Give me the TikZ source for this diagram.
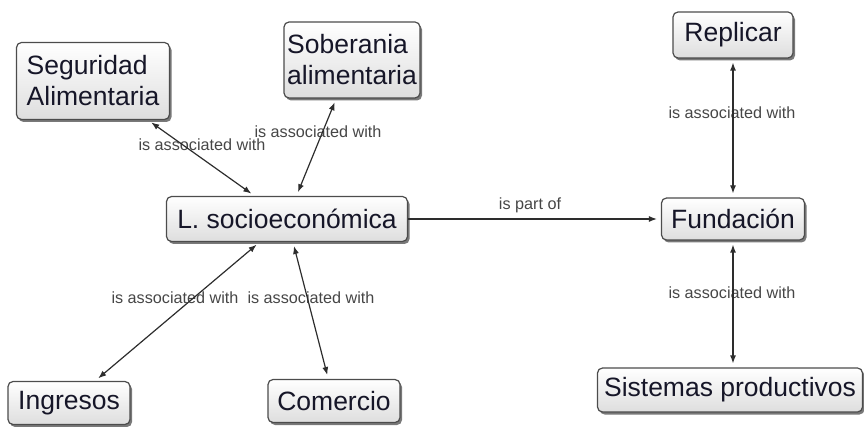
\documentclass[tikz,border=0pt]{standalone}
\usepackage{fontspec}
\setmainfont{Liberation Sans}
\usetikzlibrary{shadows,arrows.meta}
\definecolor{nodetext}{RGB}{22,22,40}
\definecolor{edgecol}{RGB}{45,45,45}
\definecolor{labcol}{RGB}{70,70,70}
\begin{document}
\begin{tikzpicture}[x=1pt,y=-1pt,
  concept/.style={draw=edgecol!85, line width=1.2pt, rounded corners=5pt,
    top color=white, bottom color=black!13, text=nodetext,
    font=\fontsize{26.5}{31}\selectfont, align=left, inner sep=2pt,
    drop shadow={shadow xshift=2pt, shadow yshift=-2.5pt, opacity=0.7, fill=black!75}},
  linklab/.style={text=labcol, font=\fontsize{16.2}{19}\selectfont, inner sep=0pt},
  conn/.style={draw=edgecol, line width=1.2pt, shorten <=4pt, shorten >=4pt},
  both/.style={conn, {Latex[length=8pt,width=6pt]}-{Latex[length=8pt,width=6pt]}},
  fwd/.style={conn, -{Latex[length=8pt,width=6pt]}}
]
\useasboundingbox (0,0) rectangle (864,427);

% concepts
\node[concept, minimum width=153pt, minimum height=77pt] (seg) at (93,81) {Seguridad\\Alimentaria};
\node[concept, minimum width=136pt, minimum height=76pt] (sob) at (352,60) {Soberania\\alimentaria};
\node[concept, minimum width=241pt, minimum height=45pt] (lsoc) at (287,219) {L. socioeconómica};
\node[concept, minimum width=143pt, minimum height=42pt] (fund) at (733,219) {Fundación};
\node[concept, minimum width=120pt, minimum height=46pt] (rep) at (733,35) {Replicar};
\node[concept, minimum width=265pt, minimum height=44pt] (sist) at (730,390) {Sistemas productivos};
\node[concept, minimum width=122pt, minimum height=43pt] (ing) at (69,403) {Ingresos};
\node[concept, minimum width=132pt, minimum height=43pt] (com) at (334,401) {Comercio};

% linking phrases
\node[linklab] (l1) at (202,145) {is associated with};
\node[linklab] (l2) at (318,132) {is associated with};
\node[linklab] (l3) at (530,205) {is part of};
\node[linklab] (l4) at (732,113) {is associated with};
\node[linklab] (l5) at (732,293) {is associated with};
\node[linklab] (l6) at (175,298) {is associated with};
\node[linklab] (l7) at (311,298) {is associated with};

% connectors
\draw[both] (seg) -- (lsoc);
\draw[both] (sob) -- (lsoc);
\draw[both] (lsoc) -- (ing);
\draw[both] (lsoc) -- (com);
\draw[fwd, shorten <=0pt] (lsoc) -- (fund);
\draw[both] (rep) -- (fund);
\draw[both] (fund.south) -- (fund.south |- sist.north);
\end{tikzpicture}
\end{document}
